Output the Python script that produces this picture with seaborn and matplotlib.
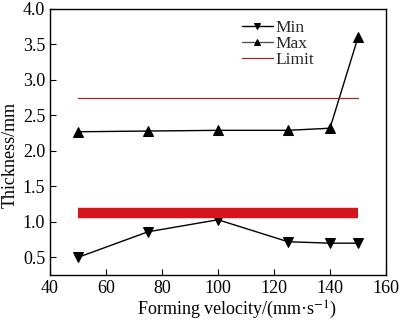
import matplotlib
matplotlib.use("Agg")
import matplotlib.pyplot as plt
import seaborn as sns
import pandas as pd

velocity = [50, 75, 100, 125, 140, 150]
min_thick = [0.50, 0.86, 1.03, 0.72, 0.70, 0.70]
max_thick = [2.27, 2.28, 2.29, 2.29, 2.32, 3.60]
limit_x = [50, 150]
limit_upper = [2.75, 2.75]
limit_lower = [1.12, 1.12]

sns.set_theme(style="white")
plt.rcParams['font.family'] = ['Liberation Serif', 'DejaVu Serif']
plt.rcParams['mathtext.fontset'] = 'stix'

fig = plt.figure(figsize=(4.0, 3.21), dpi=100)
ax = fig.add_axes([0.125, 0.143, 0.84, 0.829])

df = pd.DataFrame({"v": velocity, "mn": min_thick, "mx": max_thick})
lim = pd.DataFrame({"v": limit_x, "up": limit_upper, "lo": limit_lower})

sns.lineplot(data=df, x="v", y="mn", ax=ax, color="black", lw=1, marker="v",
             markersize=7, markeredgecolor="black", label="Min")
sns.lineplot(data=df, x="v", y="mx", ax=ax, color="black", lw=1, marker="^",
             markersize=7, markeredgecolor="black", label="Max")
sns.lineplot(data=lim, x="v", y="up", ax=ax, color="#9a2a2a", lw=0.9, label="Limit")
sns.lineplot(data=lim, x="v", y="lo", ax=ax, color="#d7141a", lw=7.5,
             solid_capstyle="butt", legend=False)

ax.set_xlim(40, 160)
ax.set_ylim(0.25, 4.0)
ax.set_xticks([40, 60, 80, 100, 120, 140, 160])
ax.set_yticks([0.5, 1.0, 1.5, 2.0, 2.5, 3.0, 3.5, 4.0])
ax.set_yticklabels(["0.5", "1.0", "1.5", "2.0", "2.5", "3.0", "3.5", "4.0"])
ax.tick_params(direction="in", length=4, labelsize=13, colors="black",
               left=True, bottom=True, width=0.8)
ax.set_xlabel("Forming velocity/(mm·s$^{-1}$)", fontsize=13, color="black", labelpad=1)
ax.xaxis.set_label_coords(0.556, -0.09)
ax.xaxis.label.set_va("top")
ax.set_ylabel("Thickness/mm", fontsize=13, color="black", labelpad=3)
ax.yaxis.set_label_coords(-0.092, 0.45)
for s in ax.spines.values():
    s.set_color("black")
    s.set_linewidth(1.0)

leg = ax.legend(loc="upper left", bbox_to_anchor=(0.571, 0.96), frameon=False,
                fontsize=12.5, handlelength=1.8, handletextpad=0.15, labelspacing=0.0,
                borderaxespad=0, borderpad=0)
handles = leg.legend_handles
handles[0].set_markersize(5)
handles[1].set_markersize(5)
handles[1].set_color("#555555")
handles[1].set_markerfacecolor("black")
handles[1].set_markeredgecolor("black")

fig.savefig("out.png", dpi=100)
